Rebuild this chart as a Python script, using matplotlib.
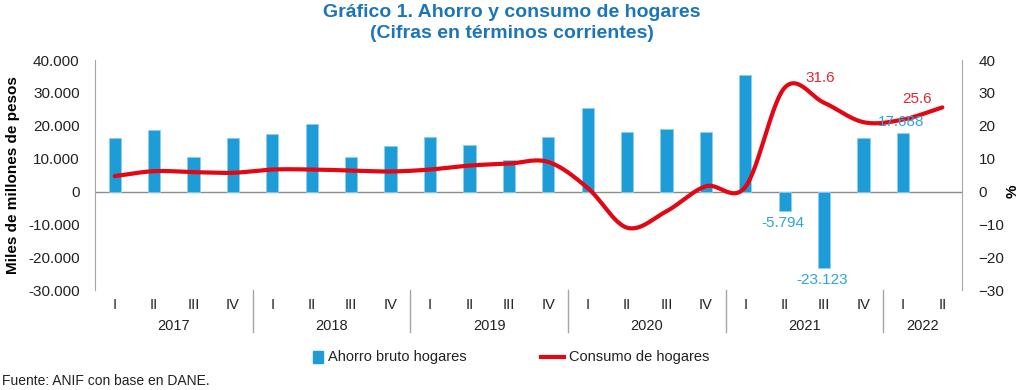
import matplotlib
matplotlib.use("Agg")
import matplotlib.pyplot as plt
import matplotlib.transforms as mtransforms
import numpy as np

plt.rcParams['font.family'] = ['Liberation Sans', 'DejaVu Sans']

# Data
years = ["2017", "2018", "2019", "2020", "2021", "2022"]
quarters = ["I", "II", "III", "IV"] * 5 + ["I", "II"]
ahorro = [16200, 18700, 10400, 16200, 17400, 20700, 10600, 14000, 16600, 14300,
          9500, 16600, 25300, 18100, 19100, 18100, 35600, -5794, -23123, 16300,
          17688, np.nan]
consumo = [4.7, 6.2, 5.9, 5.7, 6.7, 6.7, 6.4, 6.1, 6.7, 7.9, 8.5, 9.0, 1.1, -11.0,
           -6.0, 1.6, 1.4, 31.6, 27.0, 21.1, 21.9, 25.6]

blue = "#1E9CD8"
red = "#E30613"
grey = "#A6A6A6"


def smooth(xs, ys, n=30):
    # Catmull-Rom spline, similar to Excel's smoothed line
    px = np.concatenate([[2 * xs[0] - xs[1]], xs, [2 * xs[-1] - xs[-2]]])
    py = np.concatenate([[2 * ys[0] - ys[1]], ys, [2 * ys[-1] - ys[-2]]])
    outx, outy = [], []
    t = np.linspace(0, 1, n)
    for i in range(1, len(px) - 2):
        for p, out in ((px, outx), (py, outy)):
            p0, p1, p2, p3 = p[i - 1], p[i], p[i + 1], p[i + 2]
            out.extend(0.5 * ((2 * p1) + (-p0 + p2) * t
                              + (2 * p0 - 5 * p1 + 4 * p2 - p3) * t ** 2
                              + (-p0 + 3 * p1 - 3 * p2 + p3) * t ** 3))
    return np.array(outx), np.array(outy)


fig = plt.figure(figsize=(10.24, 3.9), dpi=100)
ax = fig.add_axes([0.0928, 0.256, 0.8467, 0.590])
x = np.arange(len(quarters))

ax.bar(x, ahorro, width=0.31, color=blue, edgecolor="#8CCFF0", linewidth=0.6, zorder=2)
ax.set_xlim(-0.5, len(quarters) - 0.5)
ax.set_ylim(-30000, 40000)
ax.set_yticks(np.arange(-30000, 40001, 10000))
ax.set_yticklabels([f"{v:,}".replace(",", ".") for v in range(-30000, 40001, 10000)],
                   fontsize=11, color="#222222")
ax.tick_params(axis="y", length=0, pad=11)
ax.set_xticks(x)
ax.set_xticklabels(quarters, fontsize=10.5, color="#222222")
ax.tick_params(axis="x", length=0, pad=6)
ax.axhline(0, color="#8C8C8C", linewidth=1, zorder=1)
for s in ["top", "bottom", "right"]:
    ax.spines[s].set_visible(False)
ax.spines["left"].set_color(grey)
ax.set_ylabel("Miles de millones de pesos", fontsize=11, fontweight="bold", labelpad=6)

ax2 = ax.twinx()
ax2.set_ylim(-30, 40)
ax2.set_yticks(np.arange(-30, 41, 10))
ax2.tick_params(axis="y", length=0, pad=12, labelsize=11, labelcolor="#222222")
for s in ["top", "bottom", "left"]:
    ax2.spines[s].set_visible(False)
ax2.spines["right"].set_color(grey)
ax2.set_ylabel("%", fontsize=11, fontweight="bold", rotation=90)
ax2.yaxis.set_label_coords(1.05, 0.43)

sx, sy = smooth(x.astype(float), np.array(consumo))
ax2.plot(sx, sy, color=red, linewidth=3, solid_capstyle="round", zorder=3)

# Year labels and separators
trans = mtransforms.blended_transform_factory(ax.transData, ax.transAxes)
for i, yr in enumerate(years):
    start = i * 4
    end = min(start + 4, len(quarters))
    ax.text((start + end - 1) / 2, -0.155, yr, transform=trans, ha="center", va="center",
            fontsize=10.5, color="#222222")
    if i > 0:
        ax.plot([start - 0.5, start - 0.5], [0, -0.18], transform=trans, color=grey,
                linewidth=1, clip_on=False)

# Data labels
ax2.text(17.9, 34.4, "31.6", color="#E5252F", fontsize=11, ha="center", va="center")
ax2.text(20.35, 28.3, "25.6", color="#E5252F", fontsize=11, ha="center", va="center")
ax2.text(19.95, 21.3, "17.688", color="#2EA3DC", fontsize=11, ha="center", va="center",
         zorder=5)
ax.text(16.96, -9500, "-5.794", color="#2EA3DC", fontsize=11, ha="center", va="center")
ax.text(17.95, -26800, "-23.123", color="#2EA3DC", fontsize=11, ha="center", va="center")

# Title
fig.text(0.5, 0.967, "Gráfico 1. Ahorro y consumo de hogares", ha="center", va="center",
         fontsize=14, fontweight="bold", color="#1B75BC")
fig.text(0.5, 0.913, "(Cifras en términos corrientes)", ha="center", va="center",
         fontsize=14, fontweight="bold", color="#1B75BC")

# Legend
fig.patches.append(plt.Rectangle((313 / 1024, 1 - 363 / 390), 10 / 1024, 12 / 390,
                                 transform=fig.transFigure, color=blue))
fig.text(328 / 1024, 1 - 357 / 390, "Ahorro bruto hogares", fontsize=10.5, va="center",
         color="#222222")
fig.lines.append(plt.Line2D([541 / 1024, 564 / 1024], [1 - 357 / 390] * 2,
                            transform=fig.transFigure, color=red, linewidth=3))
fig.text(569 / 1024, 1 - 357 / 390, "Consumo de hogares", fontsize=10.5, va="center",
         color="#222222")

fig.text(0.002, 1 - 381 / 390, "Fuente: ANIF con base en DANE.", fontsize=10, va="center",
         color="#222222")

fig.savefig("out.png", dpi=100)
